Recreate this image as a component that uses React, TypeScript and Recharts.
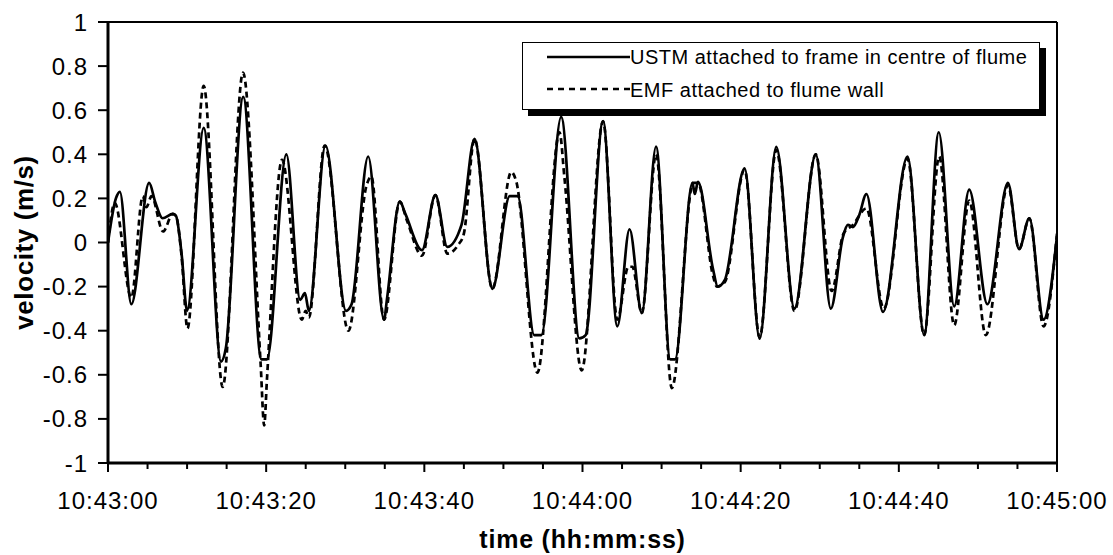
import React from 'react'
import {
  LineChart, Line, XAxis, YAxis, ReferenceLine, Legend,
} from 'recharts'

const FONT = '"Liberation Sans", Arial, Helvetica, sans-serif'

// seconds after 10:43:00
const tickTimes = [0, 5, 10, 15, 20, 25, 30, 35, 40, 45, 50, 55, 60, 65, 70, 75, 80, 85, 90, 95, 100, 105, 110, 115, 120]
const majorTimes = [0, 20, 40, 60, 80, 100, 120]
const timeLabels = ['10:43:00', '10:43:20', '10:43:40', '10:44:00', '10:44:20', '10:44:40', '10:45:00']
const velocityTicks = [-1, -0.8, -0.6, -0.4, -0.2, 0, 0.2, 0.4, 0.6, 0.8, 1]

const ustmName = 'USTM attached to frame in centre of flume'
const emfName = 'EMF attached to flume wall'

const ustmTime = [
  0, 1.0, 1.5, 2.95, 5.2, 6.0, 6.9, 8.2, 8.6, 9.3, 10.0, 12.1, 14.3, 14.9, 17.1, 19.4, 20.1,
  22.55, 24.3, 24.9, 25.4, 27.5, 30.1, 30.8, 32.9, 34.9, 35.3, 36.9, 37.6, 39.7, 41.4, 42.9,
  44.7, 46.35, 48.6, 50.8, 51.8, 53.9, 54.8, 57.3, 59.6, 60.4, 62.6, 64.4, 65.95, 67.5, 69.3,
  71.1, 71.7, 73.9, 74.2, 74.6, 76.5, 77.1, 78.0, 80.5, 82.4, 84.5, 86.8, 89.5, 91.4, 92.9,
  93.55, 94.2, 95.0, 95.9, 98.0, 101.1, 103.2, 105.05, 107.0, 108.9, 111.2, 113.8, 115.2,
  116.5, 118.3, 120,
]
const ustmVel = [
  0, 0.2, 0.23, -0.28, 0.27, 0.18, 0.11, 0.13, 0.12, -0.05, -0.31, 0.52, -0.54, -0.48, 0.66, -0.53, -0.53,
  0.40, -0.26, -0.23, -0.31, 0.44, -0.31, -0.28, 0.39, -0.35, -0.25, 0.185, 0.13, -0.035, 0.215, -0.02,
  0.08, 0.47, -0.21, 0.21, 0.21, -0.42, -0.42, 0.57, -0.435, -0.42, 0.55, -0.38, 0.06, -0.32, 0.435,
  -0.53, -0.53, 0.27, 0.22, 0.275, -0.12, -0.2, -0.17, 0.336, -0.436, 0.434, -0.30, 0.40, -0.30, 0.02,
  0.08, 0.07, 0.125, 0.22, -0.315, 0.39, -0.42, 0.50, -0.29, 0.24, -0.28, 0.27, -0.03,
  0.11, -0.35, 0.03,
]

const emfTime = [
  0, 0.85, 2.95, 4.4, 4.85, 5.5, 6.96, 8.2, 8.6, 9.3, 10.05, 12.1, 14.5, 17.07, 19.3, 19.75, 20.1,
  22.0, 24.5, 25.0, 25.4, 27.4, 30.4, 32.7, 33.3, 34.9, 36.9, 37.8, 39.7, 41.4, 42.9, 44.3, 45.0,
  46.35, 48.6, 51.0, 51.6, 54.3, 57.1, 57.7, 59.9, 62.6, 64.4, 65.8, 66.3, 67.5, 69.3, 71.3, 74.0,
  74.6, 76.5, 77.0, 78.0, 80.5, 82.4, 84.5, 86.8, 89.5, 91.5, 93.0, 94.2, 95.9, 98.1, 101.1, 103.2,
  105.1, 107.0, 108.9, 111.0, 113.8, 115.2, 116.5, 118.3, 120,
]
const emfVel = [
  0, 0.18, -0.25, 0.21, 0.16, 0.21, 0.05, 0.13, 0.12, -0.06, -0.39, 0.71, -0.655, 0.77, -0.55, -0.83, -0.62,
  0.375, -0.35, -0.31, -0.34, 0.44, -0.40, 0.26, 0.30, -0.35, 0.185, 0.10, -0.06, 0.215, -0.05, -0.01, 0.04,
  0.47, -0.21, 0.32, 0.28, -0.59, 0.50, 0.30, -0.58, 0.55, -0.35, -0.11, -0.11, -0.32, 0.40, -0.66, 0.27,
  0.27, -0.15, -0.2, -0.18, 0.33, -0.43, 0.42, -0.31, 0.40, -0.22, 0.04, 0.08, 0.155, -0.30, 0.38, -0.42,
  0.39, -0.375, 0.19, -0.42, 0.26, -0.03, 0.11, -0.38, 0.04,
]

const ustmData = ustmTime.map((t, i) => ({ t, v: ustmVel[i] }))
const emfData = emfTime.map((t, i) => ({ t, v: emfVel[i] }))

const textStyle = { fontFamily: FONT, fill: '#000' }

function TimeTick(props: any) {
  const { x, y, payload } = props
  const idx = majorTimes.indexOf(payload.value)
  const major = idx >= 0
  return (
    <g>
      <line x1={x} x2={x} y1={y} y2={y + (major ? 9 : 6)} stroke="#000" strokeWidth={2} />
      {major && (
        <text x={x} y={y + 46} textAnchor="middle" fontSize={24} letterSpacing={1} {...textStyle}>
          {timeLabels[idx]}
        </text>
      )}
    </g>
  )
}

function XTitle(props: any) {
  const vb = props.viewBox
  return (
    <text x={vb.x + vb.width / 2} y={vb.y + vb.height - 7} textAnchor="middle"
      fontSize={25} fontWeight="bold" letterSpacing={0.8} {...textStyle}>
      time (hh:mm:ss)
    </text>
  )
}

function YTitle(props: any) {
  const vb = props.viewBox
  const x = vb.x + 33
  const y = vb.y + vb.height / 2
  return (
    <text x={x} y={y} transform={`rotate(-90 ${x} ${y})`} textAnchor="middle"
      fontSize={26} fontWeight="bold" letterSpacing={0.6} {...textStyle}>
      velocity (m/s)
    </text>
  )
}

function LegendBox() {
  return (
    <div style={{
      width: 518, height: 68, border: '1.5px solid #000', boxShadow: '6px 6px 0 #000',
      background: '#fff', boxSizing: 'border-box',
    }}>
      <svg width={515} height={65} style={{ display: 'block' }}>
        <line x1={24} x2={107} y1={14} y2={14} stroke="#000" strokeWidth={2.5} />
        <text x={107} y={21} fontSize={20} letterSpacing={0.5} {...textStyle}>{ustmName}</text>
        <line x1={24} x2={107} y1={46} y2={46} stroke="#000" strokeWidth={2.5} strokeDasharray="6 5" />
        <text x={107} y={54} fontSize={20} letterSpacing={0.5} {...textStyle}>{emfName}</text>
      </svg>
    </div>
  )
}

export default function App() {
  return (
    <div style={{ position: 'fixed', left: 0, top: 0, width: 1113, height: 555, background: '#fff' }}>
      <LineChart width={1113} height={555} data={ustmData}
        margin={{ top: 22, right: 56, bottom: 0, left: 0 }}>
        <XAxis dataKey="t" type="number" domain={[0, 120]} ticks={tickTimes} interval={0}
          height={92} tick={<TimeTick />} tickLine={false} tickSize={0} tickMargin={0}
          axisLine={{ stroke: '#000', strokeWidth: 3 }} allowDataOverflow
          label={XTitle} />
        <YAxis type="number" domain={[-1, 1]} ticks={velocityTicks} interval={0} width={108}
          tick={{ fontSize: 24, fontFamily: FONT, fill: '#000', letterSpacing: 1 }}
          tickSize={10} tickMargin={10}
          tickLine={{ stroke: '#000', strokeWidth: 2 }}
          axisLine={{ stroke: '#000', strokeWidth: 3 }}
          allowDataOverflow label={YTitle} />
        <ReferenceLine y={1} stroke="#000" strokeWidth={2} />
        <ReferenceLine x={120} stroke="#000" strokeWidth={2} />
        <Legend layout="horizontal" verticalAlign="middle" align="center"
          wrapperStyle={{ left: 522, top: 42, width: 530, height: 80 }}
          content={<LegendBox />} />
        <Line data={ustmData} dataKey="v" name={ustmName} type="monotone" stroke="#000"
          strokeWidth={2.7} dot={false} activeDot={false} isAnimationActive={false} />
        <Line data={emfData} dataKey="v" name={emfName} type="monotone" stroke="#000"
          strokeWidth={2.7} strokeDasharray="6 4" dot={false} activeDot={false} isAnimationActive={false} />
      </LineChart>
    </div>
  )
}
